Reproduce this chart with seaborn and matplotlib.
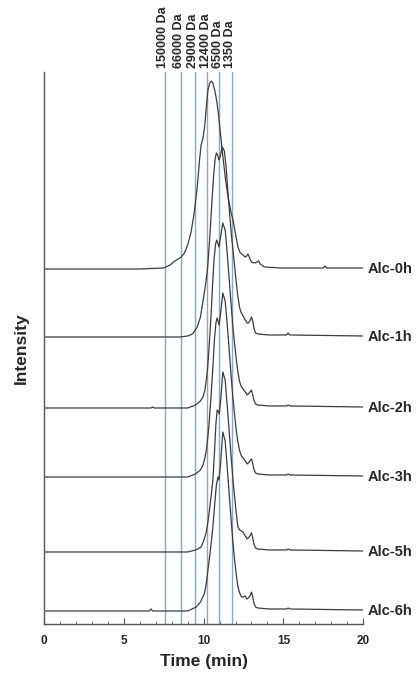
import pandas as pd
import numpy as np
import matplotlib.pyplot as plt
import seaborn as sns

# Data (intensity in arbitrary units)

samples = ['Alc-0h', 'Alc-1h', 'Alc-2h', 'Alc-3h', 'Alc-5h', 'Alc-6h']

t_0h = [0, 6.0, 7.5, 7.9, 8.2, 8.4, 8.6, 8.8, 9.0, 9.2, 9.4, 9.6, 9.75, 9.84, 9.95,
        10.06, 10.17, 10.27, 10.38, 10.48, 10.58, 10.69, 10.8, 10.9, 11.05, 11.21, 11.37,
        11.53, 11.7, 11.84, 12.0, 12.15, 12.3, 12.47, 12.6, 12.7, 12.78, 12.88, 13.0,
        13.2, 13.35, 13.45, 13.55, 13.7, 13.83, 14.3, 14.77, 17.5, 17.6, 17.7, 20]
i_0h = [0, 0, 1, 4, 8, 10, 12, 16, 24, 36, 55, 82, 110, 124, 130,
        142, 162, 179, 186, 188, 186, 179, 170, 159, 136, 112, 90,
        72, 58, 49, 35, 22, 16, 14, 12, 13, 15, 11, 7,
        6, 7, 8, 5, 3, 2, 1.5, 1, 1, 3, 1, 1]

t_1h = [0, 8.5, 9.0, 9.3, 9.6, 9.8, 9.95, 10.06, 10.15, 10.25, 10.38, 10.5, 10.62,
        10.72, 10.8, 10.88, 10.96, 11.05, 11.17, 11.3, 11.42, 11.5, 11.62, 11.74, 11.84,
        11.95, 12.05, 12.15, 12.26, 12.37, 12.47, 12.57, 12.65, 12.72, 12.8, 12.9, 13.0,
        13.08, 13.15, 13.25, 13.4, 14.1, 15.2, 15.3, 15.4, 20]
i_1h = [0, 0, 1, 3, 10, 20, 35, 46, 56, 69, 98, 130, 160,
        178, 184, 182, 177, 181, 190, 186, 168, 150, 125, 102, 87,
        70, 54, 40, 29, 24, 21, 18, 16, 14, 14, 16, 20,
        16, 9, 4, 3, 2, 2, 4, 2, 1]

t_2h = [0, 6.7, 6.8, 6.9, 9.0, 9.5, 9.8, 9.96, 10.08, 10.17, 10.25, 10.33, 10.45,
        10.55, 10.65, 10.75, 10.82, 10.89, 10.96, 11.05, 11.2, 11.35, 11.45, 11.55, 11.7,
        11.84, 11.95, 12.05, 12.15, 12.26, 12.37, 12.47, 12.57, 12.65, 12.72, 12.8, 12.9,
        13.0, 13.08, 13.15, 13.25, 13.4, 14.1, 15.2, 15.3, 15.4, 20]
i_2h = [0, 0, 1, 0, 0, 3, 7, 11, 18, 28, 40, 58, 88,
        120, 148, 164, 168, 165, 161, 170, 185, 178, 160, 140, 108,
        80, 63, 48, 36, 26, 21, 19, 17, 15, 13, 14, 16,
        18, 13, 8, 4, 3, 2, 2, 3, 2, 1]

t_3h = [0, 9.0, 9.5, 9.8, 9.96, 10.08, 10.17, 10.26, 10.35, 10.47, 10.58, 10.68, 10.77,
        10.84, 10.9, 10.97, 11.06, 11.2, 11.35, 11.45, 11.55, 11.7, 11.84, 11.95, 12.05,
        12.15, 12.26, 12.37, 12.47, 12.57, 12.65, 12.72, 12.8, 12.9, 13.0, 13.08, 13.15,
        13.25, 13.4, 14.1, 15.2, 15.3, 15.4, 20]
i_3h = [0, 0, 3, 7, 12, 19, 27, 39, 55, 82, 110, 138, 154,
        159, 156, 152, 163, 184, 176, 158, 138, 106, 78, 61, 46,
        35, 26, 21, 19, 17, 15, 13, 14, 16, 18, 13, 8,
        4, 3, 2, 2, 3, 2, 1]

t_5h = [0, 9.0, 9.5, 9.84, 10.0, 10.17, 10.26, 10.35, 10.47, 10.58, 10.68, 10.77, 10.85,
        10.91, 10.98, 11.07, 11.2, 11.35, 11.45, 11.55, 11.7, 11.84, 11.95, 12.05, 12.15,
        12.26, 12.37, 12.47, 12.57, 12.65, 12.72, 12.8, 12.9, 13.0, 13.08, 13.15, 13.25,
        13.4, 14.1, 15.2, 15.3, 15.4, 20]
i_5h = [0, 0, 2, 5, 11, 20, 29, 40, 56, 72, 100, 128, 142,
        141, 138, 152, 180, 172, 152, 132, 100, 72, 54, 38, 25,
        22, 21, 20, 17, 15, 13, 14, 16, 19, 14, 8, 4,
        3, 2, 2, 3, 2, 1]

t_6h = [0, 6.6, 6.7, 6.8, 9.0, 9.54, 9.8, 10.06, 10.17, 10.27, 10.42, 10.58, 10.7,
        10.8, 10.9, 10.96, 11.05, 11.2, 11.35, 11.45, 11.55, 11.7, 11.84, 11.95, 12.05,
        12.15, 12.26, 12.37, 12.47, 12.6, 12.72, 12.8, 12.9, 13.0, 13.08, 13.15, 13.25,
        13.4, 14.1, 15.2, 15.3, 15.4, 20]
i_6h = [0, 0, 2, 0, 0, 4, 9, 18, 28, 41, 60, 84, 108,
        126, 134, 131, 145, 179, 170, 150, 128, 96, 68, 50, 36,
        24, 18, 14, 14, 15, 12, 13, 15, 19, 14, 8, 4,
        3, 2, 2, 3, 2, 1]

times = [t_0h, t_1h, t_2h, t_3h, t_5h, t_6h]
intensities = [i_0h, i_1h, i_2h, i_3h, i_5h, i_6h]

# vertical stacking of the traces
offsets = [355, 287, 216, 147, 72, 13]

# molecular weight markers
mw_labels = ['150000 Da', '66000 Da', '29000 Da', '12400 Da', '6500 Da', '1350 Da']
mw_times = [7.55, 8.56, 9.44, 10.24, 10.99, 11.77]

rows = []
for name, t, i, off in zip(samples, times, intensities, offsets):
    for tt, ii in zip(t, i):
        rows.append({'sample': name, 'time': tt, 'shifted': ii + off})
df = pd.DataFrame(rows)

# Plot

sns.set_style('white')
plt.rcParams['font.family'] = ['Liberation Sans', 'DejaVu Sans']
plt.rcParams['font.weight'] = 'bold'

fig = plt.figure(figsize=(4.16, 6.74), dpi=100)
ax = fig.add_axes([0.106, 0.0742, 0.767, 0.819])

for x in mw_times:
    ax.axvline(x, color='#7fabd0', lw=1.0, zorder=1)

sns.lineplot(data=df, x='time', y='shifted', hue='sample', units='sample',
             estimator=None, sort=False, palette=['#3c3c3c'] * len(samples),
             legend=False, lw=0.9, ax=ax, zorder=2)

ax.set_xlim(0, 20)
ax.set_ylim(0, 552)
ax.set_yticks([])
ax.set_xticks([0, 5, 10, 15, 20])
ax.set_xticks(range(0, 21), minor=True)
ax.tick_params(axis='x', which='major', direction='in', length=4, width=0.8,
               color='#555555', labelsize=8.5, pad=8, bottom=True)
ax.tick_params(axis='x', which='minor', direction='in', length=2.5, width=0.6,
               color='#555555', bottom=True)
for lab in ax.get_xticklabels():
    lab.set_fontweight('bold')

sns.despine(ax=ax, top=True, right=True)
for s in ['left', 'bottom']:
    ax.spines[s].set_color('#555555')
    ax.spines[s].set_linewidth(1.0)

ax.set_xlabel('Time (min)', fontsize=12.5, fontweight='bold', labelpad=5)
ax.set_ylabel('Intensity', fontsize=12.5, fontweight='bold', labelpad=11)

for name, off in zip(samples, offsets):
    ax.text(20.3, off, name, fontsize=10.5, fontweight='bold', va='center', ha='left',
            clip_on=False)

for lab, x in zip(mw_labels, mw_times):
    ax.text(x - 0.12, 556, lab, rotation=90, fontsize=9, fontweight='bold',
            va='bottom', ha='center', clip_on=False)

fig.savefig('out.png', dpi=100)
